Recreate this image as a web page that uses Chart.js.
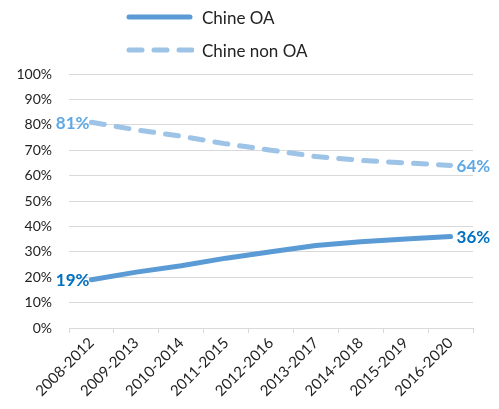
<!DOCTYPE html>
<html>
<head>
<meta charset="utf-8">
<script src="https://cdn.jsdelivr.net/npm/chart.js@4"></script>
<style>
  html, body { margin: 0; padding: 0; background: #fff; }
  #wrap { position: relative; width: 499px; height: 409px; }
  #legend { position: absolute; left: 0; top: 0; width: 499px; font-family: Lato, "Open Sans", sans-serif; font-size: 17px; color: #222; }
  .row { position: absolute; left: 124px; height: 24px; display: flex; align-items: center; }
  .row svg { margin-right: 8px; }
</style>
</head>
<body>
<div id="wrap">
  <canvas id="chart" width="499" height="409"></canvas>
  <div id="legend"></div>
</div>
<script>
var periods = ['2008-2012', '2009-2013', '2010-2014', '2011-2015', '2012-2016',
               '2013-2017', '2014-2018', '2015-2019', '2016-2020'];
var chine_oa = [19, 22, 24.5, 27.5, 30, 32.5, 34, 35, 36];
var chine_non_oa = [81, 78, 75.5, 72.5, 70, 67.5, 66, 65, 64];
var series_names = ['Chine OA', 'Chine non OA'];
var end_labels = [['19%', '36%'], ['81%', '64%']];

var line_colors = ['#5B9BD5', '#9DC3E6'],
    label_colors = ['#0070C0', '#5FA8E4'],
    dashes = [[], [13, 12]];

// legend drawn as html, one entry per row
var legend = document.getElementById('legend');
series_names.forEach((name, i) => {
    var row = document.createElement('div');
    row.className = 'row';
    row.style.top = (5 + i * 33) + 'px';
    var dash = dashes[i].length ? 'stroke-dasharray="13 12"' : '';
    row.innerHTML = '<svg width="70" height="10"><line x1="5" y1="5" x2="' + (dashes[i].length ? 68 : 66) +
        '" y2="5" stroke="' + line_colors[i] + '" stroke-width="5" stroke-linecap="round" ' + dash + '/></svg>' +
        '<span>' + name + '</span>';
    legend.appendChild(row);
});

var endLabels = {
    id: 'endLabels',
    afterDatasetsDraw(chart) {
        var ctx = chart.ctx;
        ctx.save();
        ctx.font = 'bold 17px Lato, "Open Sans", sans-serif';
        ctx.textBaseline = 'middle';
        chart.data.datasets.forEach((ds, i) => {
            var pts = chart.getDatasetMeta(i).data,
                first = pts[0],
                last = pts[pts.length - 1];
            ctx.fillStyle = label_colors[i];
            ctx.textAlign = 'right';
            ctx.fillText(end_labels[i][0], first.x - 2, first.y + 1);
            ctx.textAlign = 'left';
            ctx.fillText(end_labels[i][1], last.x + 6, last.y + 1);
        });
        ctx.restore();
    }
};

var datasets = [chine_oa, chine_non_oa].map((vals, i) => ({
    label: series_names[i],
    data: vals,
    borderColor: line_colors[i],
    borderWidth: 5,
    borderDash: dashes[i],
    borderCapStyle: 'round',
    borderJoinStyle: 'round',
    pointRadius: 0,
    tension: 0,
    fill: false
}));

new Chart(document.getElementById('chart'), {
    type: 'line',
    data: { labels: periods, datasets: datasets },
    plugins: [endLabels],
    options: {
        responsive: false,
        animation: false,
        layout: { padding: { top: 74, right: 26, left: 0, bottom: 0 } },
        plugins: { legend: { display: false }, tooltip: { enabled: false } },
        scales: {
            x: {
                offset: true,
                grid: { offset: true, drawOnChartArea: false, drawTicks: true, tickLength: 5, color: '#d9d9d9' },
                border: { color: '#d9d9d9', width: 1 },
                ticks: {
                    maxRotation: 45, minRotation: 45, padding: 1,
                    color: '#222',
                    font: { family: 'Lato, "Open Sans", sans-serif', size: 15 }
                },
                afterFit(scale) { scale.height = 81; }
            },
            y: {
                min: 0, max: 100,
                grid: { color: '#d9d9d9', drawTicks: false },
                border: { display: false },
                ticks: {
                    stepSize: 10, padding: 17,
                    color: '#222',
                    font: { family: 'Lato, "Open Sans", sans-serif', size: 14 },
                    callback: (v) => v + '%'
                },
                afterFit(scale) { scale.width = 69; }
            }
        }
    }
});
</script>
</body>
</html>
